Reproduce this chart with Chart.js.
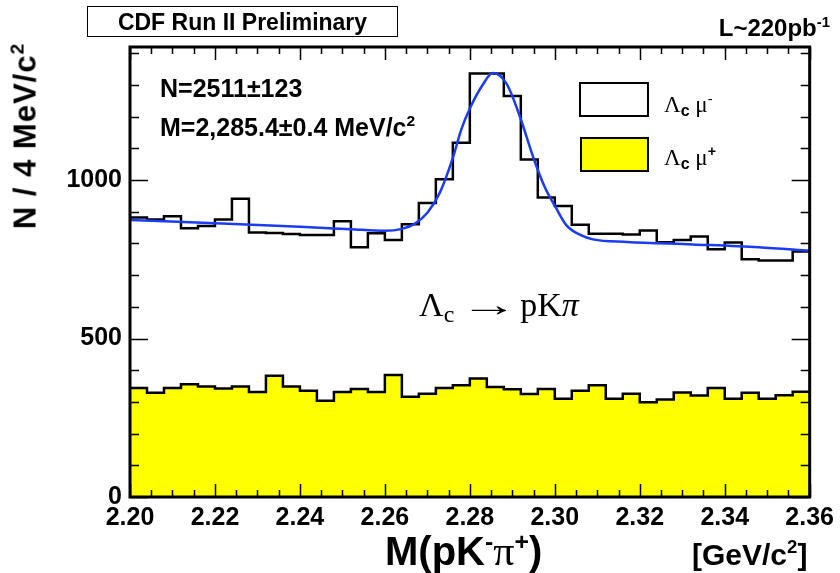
<!DOCTYPE html>
<html>
<head>
<meta charset="utf-8">
<script src="https://cdn.jsdelivr.net/npm/chart.js@4.4.1/dist/chart.umd.min.js"></script>
<style>
    body { margin: 0; background: #fff; }
    #wrap { position: relative; width: 840px; height: 573px; overflow: hidden; }
    #wrap canvas { position: absolute; left: 0; top: 0; }
    .txt { position: absolute; white-space: nowrap; line-height: 1; color: #000;
           font-family: 'Liberation Sans', Arial, sans-serif; font-weight: bold; }
    .serif { font-family: 'Liberation Serif', 'Times New Roman', serif; font-weight: normal; }
    .sans { font-family: 'Liberation Sans', Arial, sans-serif; font-weight: bold; }
    .sup { font-size: 0.62em; vertical-align: 0.62em; }
    .sub { font-size: 0.62em; vertical-align: -0.25em; }
    .box { position: absolute; box-sizing: border-box; border: 2.5px solid #000; }
</style>
</head>
<body>
<div id="wrap">
    <canvas id="massChart" width="840" height="573"></canvas>

    <div class="box" style="left:87px; top:6px; width:311px; height:31px; border-width:1.5px;"></div>
    <div class="txt" style="left:87px; top:11px; width:311px; text-align:center; font-size:23px;">CDF Run II Preliminary</div>
    <div class="txt" style="right:10px; top:15px; font-size:24px;">L~220pb<span class="sup">-1</span></div>

    <div class="txt" style="left:24px; top:136px; font-size:31px; letter-spacing:1px; transform: translate(-50%, -50%) rotate(-90deg);">N / 4 MeV/c<span class="sup">2</span></div>

    <div class="txt" style="left:160px; top:76px; font-size:25px;">N=2511±123</div>
    <div class="txt" style="left:160px; top:113px; font-size:25px;">M=2,285.4±0.4 MeV/c<span class="sup">2</span></div>

    <div class="txt serif" style="left:419px; top:288px; font-size:34px;">Λ<span class="sub" style="font-size:0.7em;">c</span><span style="margin:0 14px 0 18px; display:inline-block; transform:scaleX(1.7);">→</span>pK<i>π</i></div>

    <div class="box" style="left:579px; top:82px; width:70px; height:35px; background:#fff;"></div>
    <div class="box" style="left:580px; top:137px; width:69px; height:35px; background:#ffff00; border-width:2px;"></div>
    <div class="txt serif" style="left:664px; top:91px; font-size:23px;">Λ<span class="sub sans" style="font-size:16px;">c</span> μ<span class="sup">-</span></div>
    <div class="txt serif" style="left:664px; top:144px; font-size:23px;">Λ<span class="sub sans" style="font-size:16px;">c</span> μ<span class="sup sans">+</span></div>

    <div class="txt" style="left:385px; top:530px; font-size:40px;">M(pK<span class="sup">-</span><span class="serif" style="font-size:1.05em;">π</span><span class="sup">+</span>)</div>
    <div class="txt" style="left:692px; top:538px; font-size:30px;">[GeV/c<span class="sup">2</span>]</div>
</div>

<script>
// Binning: 40 bins of 4 MeV from 2.20 to 2.36 GeV
const binStart = 2.20;
const binWidth = 0.004;

// Lambda_c mu- (right sign) entries per bin
const countsMinus = [882, 876, 886, 848, 855, 876, 941, 835, 833, 830,
                     827, 827, 870, 788, 832, 811, 861, 928, 1003, 1118,
                     1336, 1336, 1265, 1065, 945, 918, 859, 831, 831, 828,
                     841, 804, 811, 822, 782, 803, 750, 746, 746, 775];

// Lambda_c mu+ (wrong sign) entries per bin
const countsPlus = [344, 329, 344, 356, 349, 342, 349, 331, 383, 349,
                    335, 304, 331, 341, 331, 385, 316, 326, 344, 353,
                    374, 347, 340, 325, 341, 310, 335, 353, 310, 326,
                    299, 308, 330, 320, 344, 310, 329, 310, 321, 332];

// Fit curve (gaussian + background), sampled along the mass axis
const fitMass = [2.200, 2.220, 2.240, 2.252, 2.260, 2.264, 2.267, 2.270, 2.273, 2.276,
                 2.278, 2.280, 2.283, 2.2854, 2.2886, 2.2918, 2.2949, 2.2976, 2.3003, 2.3027,
                 2.306, 2.309, 2.317, 2.3325, 2.348, 2.360];
const fitValue = [874, 864, 853, 845, 840, 846, 862, 897, 962, 1070,
                  1160, 1226, 1300, 1338, 1305, 1200, 1073, 979, 912, 858,
                  827, 813, 805, 797, 788, 777];

// Axis labels
const xTicks = [2.20, 2.22, 2.24, 2.26, 2.28, 2.30, 2.32, 2.34, 2.36];
const yTicks = [0, 500, 1000];

// Turn bin contents into step outline points
function histPoints(counts) {
    const pts = [];
    counts.forEach((v, i) => {
        const lo = binStart + i * binWidth;
        pts.push({ x: lo, y: v });
        pts.push({ x: lo + binWidth, y: v });
    });
    return pts;
}

// Frame with inward tick marks on all four sides
const framePlugin = {
    id: 'frame',
    afterDatasetsDraw(chart) {
        const { ctx, chartArea: a, scales: { x, y } } = chart;
        ctx.save();
        ctx.strokeStyle = '#000';
        ctx.lineWidth = 1.5;
        ctx.beginPath();
        for (let k = 0; k <= 32; k++) {
            const px = Math.round(x.getPixelForValue(binStart + k * 0.005)) + 0.5;
            const len = k % 4 === 0 ? 13 : 7;
            ctx.moveTo(px, a.bottom); ctx.lineTo(px, a.bottom - len);
            ctx.moveTo(px, a.top); ctx.lineTo(px, a.top + len);
        }
        for (let v = 0; v <= 1400; v += 100) {
            const py = Math.round(y.getPixelForValue(v)) + 0.5;
            const len = v % 500 === 0 ? 18 : 9;
            ctx.moveTo(a.left, py); ctx.lineTo(a.left + len, py);
            ctx.moveTo(a.right, py); ctx.lineTo(a.right - len, py);
        }
        ctx.stroke();
        ctx.lineWidth = 3;
        ctx.strokeRect(a.left, a.top, a.width, a.height);
        ctx.restore();
    }
};

const tickFont = { family: "'Liberation Sans', Arial, sans-serif", size: 25, weight: 'bold' };

new Chart(document.getElementById('massChart'), {
    type: 'line',
    data: {
        datasets: [
            {
                label: 'fit',
                data: fitMass.map((m, i) => ({ x: m, y: fitValue[i] })),
                borderColor: '#1b3cf2',
                borderWidth: 2.5,
                cubicInterpolationMode: 'monotone',
                pointRadius: 0,
                fill: false,
                order: 0
            },
            {
                label: 'Lambda_c mu-',
                data: histPoints(countsMinus),
                borderColor: '#000',
                borderWidth: 2.5,
                tension: 0,
                pointRadius: 0,
                fill: false,
                order: 1
            },
            {
                label: 'Lambda_c mu+',
                data: histPoints(countsPlus),
                borderColor: '#000',
                backgroundColor: '#ffff00',
                borderWidth: 2.5,
                tension: 0,
                pointRadius: 0,
                fill: 'origin',
                order: 2
            }
        ]
    },
    options: {
        responsive: false,
        animation: false,
        devicePixelRatio: 1,
        layout: { padding: { top: 47, right: 29, left: 0, bottom: 0 } },
        plugins: {
            legend: { display: false },
            tooltip: { enabled: false }
        },
        scales: {
            x: {
                type: 'linear',
                min: 2.20,
                max: 2.36,
                grid: { display: false, drawTicks: false },
                border: { display: false },
                afterBuildTicks: (scale) => { scale.ticks = xTicks.map(v => ({ value: v })); },
                afterFit: (scale) => { scale.height = 76; },
                ticks: {
                    color: '#000',
                    font: tickFont,
                    padding: 6,
                    maxRotation: 0,
                    autoSkip: false,
                    callback: (value) => value.toFixed(2)
                }
            },
            y: {
                type: 'linear',
                min: 0,
                max: 1420,
                grid: { display: false, drawTicks: false },
                border: { display: false },
                afterBuildTicks: (scale) => { scale.ticks = yTicks.map(v => ({ value: v })); },
                afterFit: (scale) => { scale.width = 130; },
                ticks: {
                    color: '#000',
                    font: tickFont,
                    padding: 8,
                    autoSkip: false,
                    callback: (value) => String(value)
                }
            }
        }
    },
    plugins: [framePlugin]
});
</script>
</body>
</html>
